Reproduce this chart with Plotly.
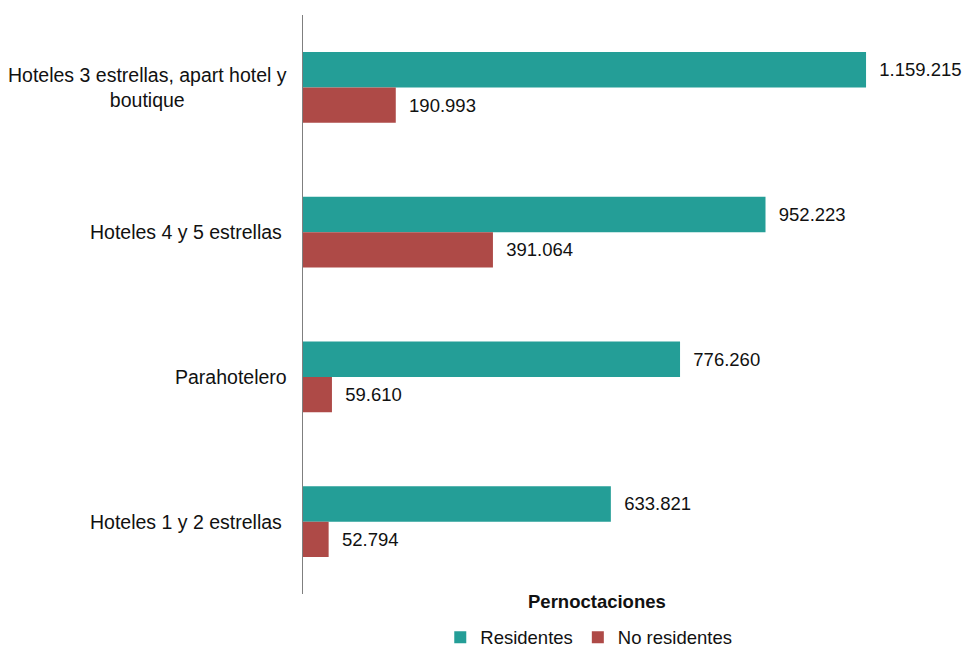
import plotly.graph_objects as go

categories = [
    "Hoteles 3 estrellas, apart hotel y<br>boutique",
    "Hoteles 4 y 5 estrellas\u00a0",
    "Parahotelero",
    "Hoteles 1 y 2 estrellas\u00a0",
]
residentes = [1159215, 952223, 776260, 633821]
no_residentes = [190993, 391064, 59610, 52794]
series_names = ["Residentes", "No residentes"]

TEAL = "#249E97"
RED = "#AE4A47"
FONT = "Helvetica, Liberation Sans, Arial, sans-serif"
TXT = "#111111"

fig = go.Figure()
for vals, name, col in [(residentes, series_names[0], TEAL),
                        (no_residentes, series_names[1], RED)]:
    fig.add_trace(go.Bar(
        y=categories, x=vals, name=name, orientation="h",
        marker=dict(color=col, line=dict(width=0)),
        texttemplate="  %{x:,.0f}", textposition="outside", cliponaxis=False,
        textfont=dict(size=18.5, color=TXT, family=FONT),
    ))

fig.update_layout(
    width=963, height=648,
    paper_bgcolor="white", plot_bgcolor="white",
    separators=",.",
    barmode="group", bargap=0.51, bargroupgap=0,
    margin=dict(l=303, r=72, t=15, b=54, autoexpand=False),
    font=dict(family=FONT, size=18.5, color=TXT),
    xaxis=dict(range=[0, 1210600], showgrid=False, zeroline=False,
               showticklabels=False, showline=False, ticks=""),
    yaxis=dict(autorange="reversed", showgrid=False, zeroline=False,
               showticklabels=False, showline=True, linecolor="#7f7f7f",
               linewidth=1, ticks=""),
    showlegend=True,
    legend=dict(orientation="h", x=0.486, xanchor="center", y=-0.0755, yanchor="middle",
                font=dict(size=18.5, color=TXT, family=FONT),
                itemwidth=30, tracegroupgap=0, traceorder="normal"),
)

for cat in categories:
    fig.add_annotation(
        x=0, xref="paper", y=cat, yref="y", xanchor="right", yanchor="middle",
        xshift=-14, text=cat, showarrow=False, align="center",
        font=dict(size=19.5, color=TXT, family=FONT),
    )

fig.add_annotation(
    x=0.5, xref="paper", y=-0.0138, yref="paper", xanchor="center", yanchor="middle",
    text="<b>Pernoctaciones</b>", showarrow=False,
    font=dict(size=18.5, color=TXT, family=FONT),
)

fig.write_html(
    "out.html",
    config={"displayModeBar": False},
    post_script="document.body.style.margin='0px';document.body.style.overflow='hidden';",
)
